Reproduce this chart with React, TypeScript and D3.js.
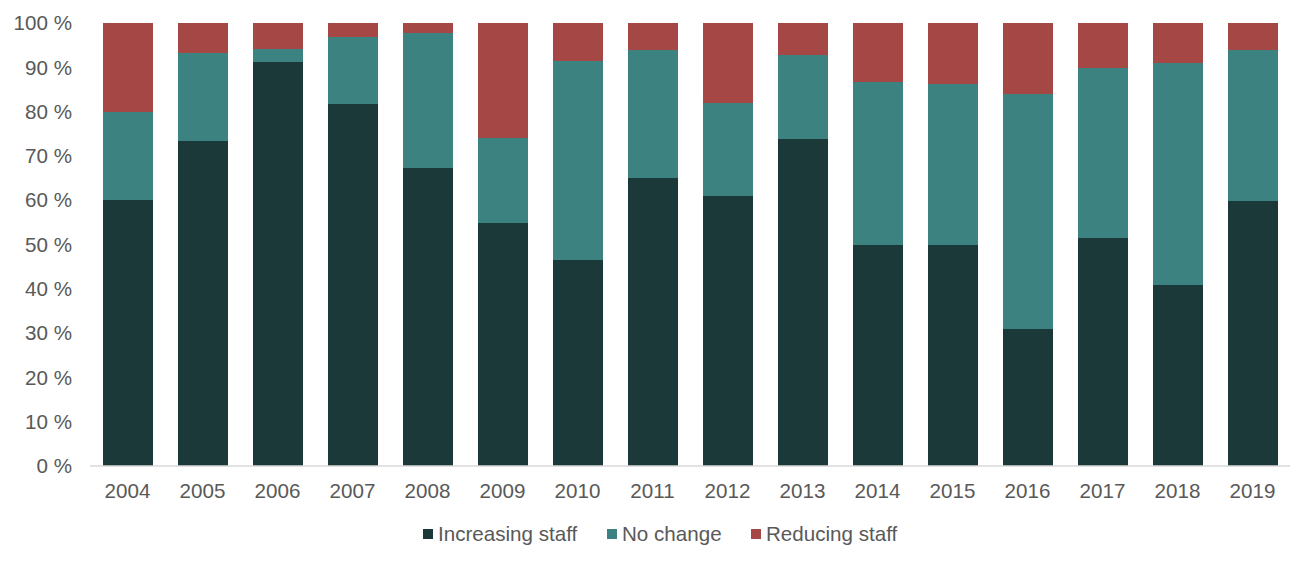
import React from "react";
import * as d3 from "d3";

const years = ["2004","2005","2006","2007","2008","2009","2010","2011","2012","2013","2014","2015","2016","2017","2018","2019"];
const increasing = [60, 73.4, 91.2, 81.7, 67.3, 54.9, 46.5, 65.0, 60.9, 73.8, 49.9, 49.9, 30.9, 51.5, 40.9, 59.8];
const noChange = [20, 19.8, 2.9, 15.1, 30.4, 19.1, 44.9, 28.9, 21.0, 19.0, 36.8, 36.3, 53.1, 38.3, 50.1, 34.1];
const reducing = [20, 6.8, 5.9, 3.2, 2.3, 26.0, 8.6, 6.1, 18.1, 7.2, 13.3, 13.8, 16.0, 10.2, 9.0, 6.1];
const seriesNames = ["Increasing staff", "No change", "Reducing staff"];
const colors = ["#1b3939", "#3b8280", "#a44745"];
const yTicks = [0, 10, 20, 30, 40, 50, 60, 70, 80, 90, 100];

const W = 1314, H = 564;
const margin = { left: 90, right: 24, top: 23, bottom: 98 };
const FONT = "'Liberation Sans', Arial, sans-serif";
const FS = 20.6;

export default function App() {
  const x = d3.scaleBand<string>().domain(years).range([margin.left, W - margin.right]).paddingInner(1 / 3).paddingOuter(1 / 6);
  const y = d3.scaleLinear().domain([0, 100]).range([H - margin.bottom, margin.top]);

  const rows = years.map((yr, i) => ({ year: yr, s0: increasing[i], s1: noChange[i], s2: reducing[i] }));
  const stack = d3.stack<any>().keys(["s0", "s1", "s2"])(rows);

  const legendX = [423, 607, 751];

  return (
    <svg width={W} height={H} style={{ position: "absolute", left: 0, top: 0, background: "#fff" }} fontFamily={FONT}>
      {stack.map((layer, si) => (
        <g key={si} fill={colors[si]}>
          {layer.map((d, i) => (
            <rect key={i} x={x(years[i])} width={x.bandwidth()} y={y(Math.min(d[1], 100))} height={y(d[0]) - y(Math.min(d[1], 100))} shapeRendering="crispEdges" />
          ))}
        </g>
      ))}
      <line x1={margin.left} x2={W - margin.right} y1={y(0)} y2={y(0)} stroke="#d9d9d9" strokeWidth={1.5} />
      {yTicks.map((t) => (
        <text key={t} x={72} y={y(t)} dy="0.35em" textAnchor="end" fontSize={FS} fill="#595959">{`${t} %`}</text>
      ))}
      {years.map((yr) => (
        <text key={yr} x={(x(yr) as number) + x.bandwidth() / 2} y={498} textAnchor="middle" fontSize={FS} fill="#595959">{yr}</text>
      ))}
      {seriesNames.map((n, i) => (
        <g key={n}>
          <rect x={legendX[i]} y={529} width={10} height={10} fill={colors[i]} />
          <text x={legendX[i] + 15} y={541} fontSize={FS} fill="#595959">{n}</text>
        </g>
      ))}
    </svg>
  );
}
